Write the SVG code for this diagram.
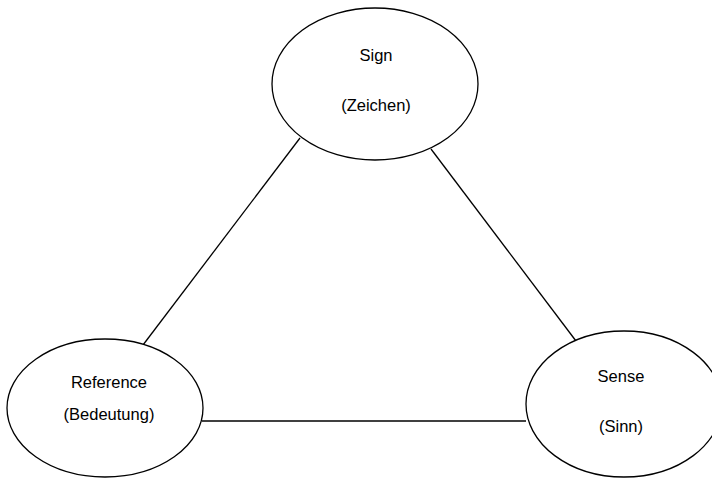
<svg xmlns="http://www.w3.org/2000/svg" width="712" height="478" viewBox="0 0 712 478">
<style>
.node ellipse{fill:#fff;stroke:#000;stroke-width:1.3}
.node text{font-family:"Liberation Sans",Arial,sans-serif;font-size:16.5px;fill:#000;text-anchor:middle}
#connectors line{stroke:#000;stroke-width:1.3}
</style>
<rect width="712" height="478" fill="#fff"/>
<g id="connectors">
<line x1="300" y1="138" x2="143" y2="345"/>
<line x1="431" y1="149" x2="576" y2="341"/>
<line x1="202" y1="421" x2="526" y2="421"/>
</g>
<g id="sign" class="node">
<ellipse cx="375" cy="84" rx="103" ry="76"/>
<text x="376" y="61">Sign</text>
<text x="376" y="111">(Zeichen)</text>
</g>
<g id="reference" class="node">
<ellipse cx="105" cy="408" rx="98" ry="69"/>
<text x="109" y="388">Reference</text>
<text x="109" y="420">(Bedeutung)</text>
</g>
<g id="sense" class="node">
<ellipse cx="624" cy="404" rx="98" ry="73"/>
<text x="621" y="382">Sense</text>
<text x="621" y="432">(Sinn)</text>
</g>
</svg>
